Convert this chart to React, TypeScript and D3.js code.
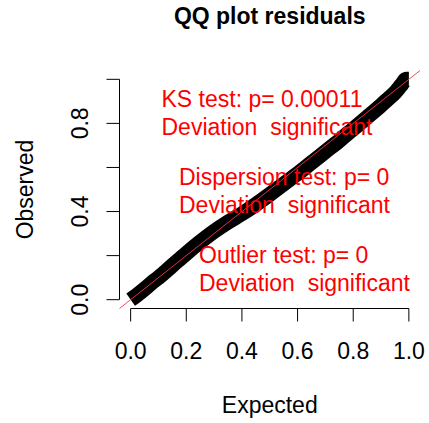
import React from "react";
import * as d3 from "d3";

// Expected (uniform) quantiles and the observed scaled-residual quantiles
const expectedQ = [0, 0.02, 0.05, 0.075, 0.1, 0.15, 0.2, 0.25, 0.3, 0.35, 0.4, 0.45, 0.5, 0.55, 0.6, 0.65, 0.7, 0.75, 0.8, 0.85, 0.9, 0.93, 0.95, 0.965, 0.975, 0.99, 1.0];
const observedQ = [0, 0.018, 0.048, 0.076, 0.1, 0.155, 0.21, 0.262, 0.31, 0.352, 0.39, 0.432, 0.478, 0.525, 0.572, 0.622, 0.672, 0.722, 0.775, 0.828, 0.882, 0.916, 0.94, 0.962, 0.978, 1.0, 1.0];

const xTicks = [0, 0.2, 0.4, 0.6, 0.8, 1.0];
const xTickLabels = ["0.0", "0.2", "0.4", "0.6", "0.8", "1.0"];
const yTicks = [0, 0.2, 0.4, 0.6, 0.8, 1.0];
const yTickLabels = ["0.0", "", "0.4", "", "0.8", ""];

const titleText = "QQ plot residuals";
const xLabel = "Expected";
const yLabel = "Observed";
const ksLines = ["KS test: p= 0.00011", "Deviation  significant"];
const dispLines = ["Dispersion test: p= 0", "Deviation  significant"];
const outLines = ["Outlier test: p= 0", "Deviation  significant"];

const W = 429;
const H = 423;
const FONT = "'Liberation Sans', Arial, Helvetica, sans-serif";

export default function App() {
  const x = d3.scaleLinear().domain([-0.04, 1.04]).range([119.5, 420]);
  const y = d3.scaleLinear().domain([-0.04, 1.04]).range([308.5, 70.5]);
  const left = x(-0.04);
  const bottom = y(-0.04);

  const pts = expectedQ.map((e, i) => [e, observedQ[i]] as [number, number]);
  const band = d3
    .line<[number, number]>()
    .x((d) => x(d[0]))
    .y((d) => y(d[1]))
    .curve(d3.curveMonotoneX)(pts) as string;

  const fs = 23;
  const lh = 28;

  const legend = (lines: string[], lx: number, ly: number) =>
    lines.map((t, i) => (
      <text key={i} x={lx} y={ly + i * lh} fill="#ff0000" fontSize={fs} fontFamily={FONT} style={{ whiteSpace: "pre" }}>
        {t}
      </text>
    ));

  return (
    <svg width={W} height={H} style={{ position: "absolute", left: 0, top: 0, background: "#fff" }}>
      <rect x={0} y={0} width={W} height={H} fill="#fff" />
      {/* title */}
      <text x={(x(-0.04) + x(1.04)) / 2} y={24} textAnchor="middle" fontWeight="bold" fontSize={fs} fontFamily={FONT}>
        {titleText}
      </text>
      {/* data band */}
      <path d={band} fill="none" stroke="#000" strokeWidth={15} strokeLinejoin="round" strokeLinecap="butt" />
      {/* reference line */}
      <line x1={x(-0.04)} y1={y(-0.04)} x2={x(1.04)} y2={y(1.04)} stroke="#ff3050" strokeWidth={0.9} />
      {/* x axis */}
      <line x1={x(0)} x2={x(1)} y1={bottom} y2={bottom} stroke="#000" />
      {xTicks.map((t, i) => (
        <g key={i}>
          <line x1={x(t)} x2={x(t)} y1={bottom} y2={bottom + 13} stroke="#000" />
          <text x={x(t)} y={358.5} textAnchor="middle" fontSize={fs} fontFamily={FONT}>
            {xTickLabels[i]}
          </text>
        </g>
      ))}
      {/* y axis */}
      <line x1={left} x2={left} y1={y(0)} y2={y(1)} stroke="#000" />
      {yTicks.map((t, i) => (
        <g key={i}>
          <line x1={left - 13} x2={left} y1={y(t)} y2={y(t)} stroke="#000" />
          {yTickLabels[i] && (
            <text transform={`translate(88,${y(t)}) rotate(-90)`} textAnchor="middle" fontSize={fs} fontFamily={FONT}>
              {yTickLabels[i]}
            </text>
          )}
        </g>
      ))}
      {/* axis titles */}
      <text x={(x(-0.04) + x(1.04)) / 2} y={413} textAnchor="middle" fontSize={fs} fontFamily={FONT}>
        {xLabel}
      </text>
      <text transform={`translate(33,${(y(-0.04) + y(1.04)) / 2}) rotate(-90)`} textAnchor="middle" fontSize={fs} fontFamily={FONT}>
        {yLabel}
      </text>
      {/* test legends */}
      {legend(ksLines, 161.5, 106.7)}
      {legend(dispLines, 179, 184.5)}
      {legend(outLines, 199, 262.5)}
    </svg>
  );
}
